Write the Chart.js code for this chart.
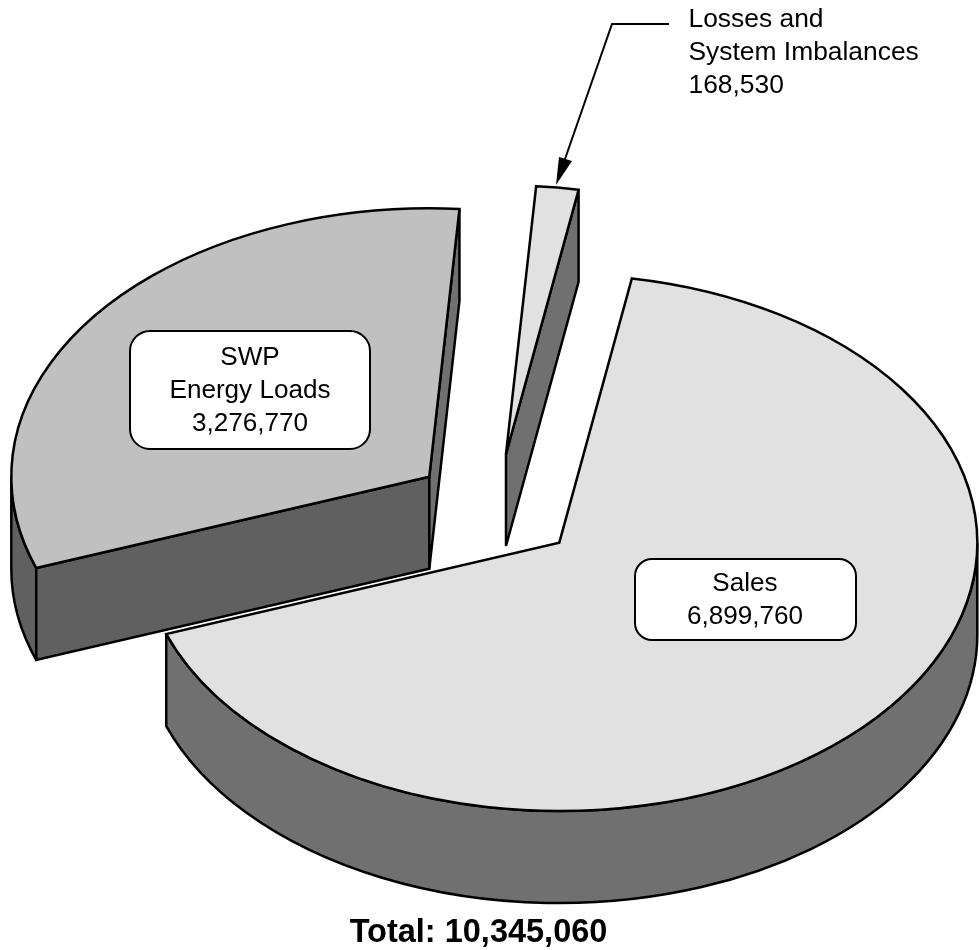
<!DOCTYPE html>
<html>
<head>
<meta charset="utf-8">
<title>Energy pie</title>
<script src="https://cdn.jsdelivr.net/npm/chart.js@4"></script>
<style>
  html, body { margin: 0; padding: 0; background: #fff; }
  canvas { display: block; }
</style>
</head>
<body>
<canvas id="pie" width="979" height="950"></canvas>
<script>
// ---------- Data ----------
const categories = ["Sales", "SWP Energy Loads", "Losses and System Imbalances"];
const values = [6899760, 3276770, 168530];
const startRotation = 10;

const fmt = n => n.toLocaleString("en-US");
const total = values.reduce((a, b) => a + b, 0);

// ---------- Look of the slices ----------
const topColors = ["#e1e1e1", "#c0c0c0", "#e1e1e1"];
const rimColors = ["#707070", "#606060", "#707070"];
const startFaceColors = ["#707070", "#606060", "#707070"];
const endFaceColors = ["#707070", "#707070", "#707070"];
const sliceShift = [[80.8, 44.2], [-49.2, -21.8], [27.5, -44.5]];
const drawOrder = [2, 1, 0];
const squash = 0.642;
const depth = 92;
const lineW = 2.5;

// ---------- Text boxes ----------
const boxes = [
  { x: 635, y: 559, w: 221, h: 81, r: 17, cx: 745, base: 591, lines: ["Sales", fmt(values[0])] },
  { x: 130, y: 331, w: 240, h: 118, r: 20, cx: 250, base: 365, lines: ["SWP", "Energy Loads", fmt(values[1])] }
];
const calloutLines = ["Losses and", "System Imbalances", fmt(values[2])];

function drawWall(ctx, pathFn, color) {
  ctx.beginPath();
  pathFn();
  ctx.closePath();
  ctx.fillStyle = color;
  ctx.fill();
  ctx.stroke();
}

function drawSlice(ctx, arc, i) {
  const cx = arc.x + sliceShift[i][0];
  const cy = arc.y + sliceShift[i][1];
  const R = arc.outerRadius;
  const ry = R * squash;
  const a0 = arc.startAngle;
  const a1 = arc.endAngle;
  const px = a => cx + R * Math.cos(a);
  const py = a => cy + ry * Math.sin(a);

  ctx.strokeStyle = "#000";
  ctx.lineWidth = lineW;
  ctx.lineJoin = "miter";
  ctx.miterLimit = 3;

  // outer rim, only the part that faces the viewer
  const r0 = Math.max(a0, 0);
  const r1 = Math.min(a1, Math.PI);
  if (r1 > r0) {
    drawWall(ctx, () => {
      ctx.ellipse(cx, cy, R, ry, 0, r0, r1);
      ctx.ellipse(cx, cy + depth, R, ry, 0, r1, r0, true);
    }, rimColors[i]);
  }

  // the two cut faces
  const face = a => () => {
    ctx.moveTo(cx, cy);
    ctx.lineTo(px(a), py(a));
    ctx.lineTo(px(a), py(a) + depth);
    ctx.lineTo(cx, cy + depth);
  };
  if (-Math.cos(a0) > 0) drawWall(ctx, face(a0), startFaceColors[i]);
  if (Math.cos(a1) > 0) drawWall(ctx, face(a1), endFaceColors[i]);

  // top surface comes from the library's own arc element
  ctx.save();
  ctx.translate(cx, cy);
  ctx.scale(1, squash);
  ctx.translate(-arc.x, -arc.y);
  arc.draw(ctx);
  ctx.restore();

  ctx.beginPath();
  ctx.moveTo(cx, cy);
  ctx.ellipse(cx, cy, R, ry, 0, a0, a1);
  ctx.closePath();
  ctx.stroke();
}

function drawBox(ctx, b) {
  ctx.beginPath();
  ctx.roundRect(b.x, b.y, b.w, b.h, b.r);
  ctx.fillStyle = "#fff";
  ctx.fill();
  ctx.lineWidth = 2;
  ctx.strokeStyle = "#000";
  ctx.stroke();
  ctx.fillStyle = "#000";
  ctx.font = "26.1px 'Liberation Sans'";
  ctx.textAlign = "center";
  ctx.textBaseline = "alphabetic";
  b.lines.forEach((t, i) => ctx.fillText(t, b.cx, b.base + i * 33));
}

function drawCallout(ctx) {
  ctx.strokeStyle = "#000";
  ctx.lineWidth = 2;
  ctx.beginPath();
  ctx.moveTo(669, 24);
  ctx.lineTo(612, 24);
  ctx.lineTo(565, 159);
  ctx.stroke();
  ctx.beginPath();
  ctx.moveTo(556, 185);
  ctx.lineTo(559, 157);
  ctx.lineTo(572, 161);
  ctx.closePath();
  ctx.fillStyle = "#000";
  ctx.fill();
  ctx.font = "26.4px 'Liberation Sans'";
  ctx.textAlign = "left";
  ctx.textBaseline = "alphabetic";
  calloutLines.forEach((t, i) => ctx.fillText(t, 688.5, 27 + i * 33));
}

// ---------- Extruded pie plugin ----------
const extrudedPie = {
  id: "extrudedPie",
  beforeDatasetsDraw(chart) {
    const ctx = chart.ctx;
    const arcs = chart.getDatasetMeta(0).data;
    drawOrder.forEach(i => drawSlice(ctx, arcs[i], i));
    boxes.forEach(b => drawBox(ctx, b));
    drawCallout(ctx);
    return false;
  }
};

// ---------- Chart ----------
new Chart(document.getElementById("pie").getContext("2d"), {
  type: "pie",
  data: {
    labels: categories,
    datasets: [{
      data: values,
      backgroundColor: topColors,
      borderWidth: 0
    }]
  },
  options: {
    responsive: false,
    animation: false,
    rotation: startRotation,
    layout: { padding: { top: 80.5, right: 22, bottom: 1, left: 0 } },
    plugins: {
      legend: { display: false },
      tooltip: { enabled: false },
      title: {
        display: true,
        position: "bottom",
        text: "Total: " + fmt(total),
        color: "#000",
        padding: 0,
        font: { family: "'Liberation Sans'", size: 32.5, weight: "bold", lineHeight: 1 }
      }
    }
  },
  plugins: [extrudedPie]
});
</script>
</body>
</html>
